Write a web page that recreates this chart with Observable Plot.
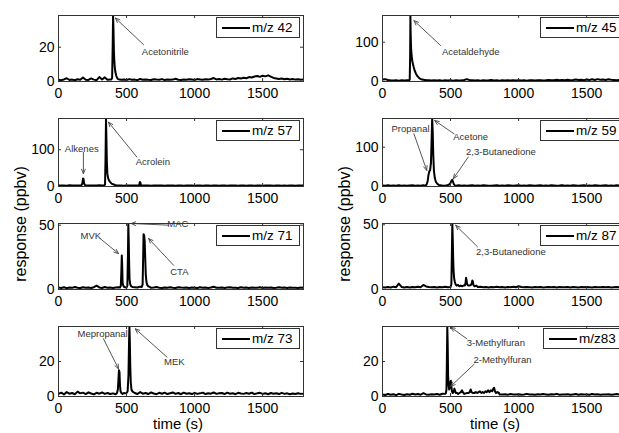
<!DOCTYPE html>
<html><head><meta charset="utf-8">
<script src="https://cdn.jsdelivr.net/npm/d3@7"></script>
<script src="https://cdn.jsdelivr.net/npm/@observablehq/plot@0.6"></script>
<style>
body{margin:0;background:#fff;}
#fig{position:relative;width:619px;height:433px;overflow:hidden;background:#fff;font-family:"Liberation Sans",Arial,sans-serif;color:#000;}
.panel{position:absolute;}
.legend{position:absolute;background:#fff;border:1px solid #333;box-sizing:border-box;height:21px;}
.legend .sw{position:absolute;left:5px;top:9px;width:28px;border-top:2px solid #000;}
.legend .lt{position:absolute;left:35px;top:2px;font-size:13.5px;line-height:15px;white-space:nowrap;}
.ylab{position:absolute;font-size:16px;white-space:nowrap;transform:translate(-50%,-50%) rotate(-90deg);}
.xlab{position:absolute;font-size:15px;white-space:nowrap;transform:translate(-50%,-50%);}
</style></head><body><div id="fig"></div>
<script>
// ---------- data ----------
const xTicks = [0, 500, 1000, 1500];
const STEP = 20; // baseline sample spacing (s): base arrays are t = 0,20,...,1800

const base42 = [1.0,0.8,1.2,1.9,0.9,1.1,0.7,1.3,1.0,2.3, 1.0,0.9,1.8,1.1,0.8,2.6,1.2,2.4,1.0,1.1, 1.2,1.1,1.3,1.0,1.2,0.9,1.4,1.0,1.1,0.8, 1.5,1.0,1.2,1.0,0.9,1.3,1.1,1.0,1.4,0.9, 1.2,1.0,1.1,1.6,1.0,0.9,1.2,1.0,1.3,1.1, 0.9,1.4,1.2,1.0,1.3,1.1,1.5,2.0,1.2,1.4, 1.1,1.6,1.3,1.2,1.8,1.5,2.0,1.7,2.2,1.9, 2.6,2.3,2.9,3.2,2.7,3.4,3.0,3.6,2.8,2.1, 1.8,1.5,1.7,1.3,1.6,1.2,1.4,1.1,1.3,1.0, 1.2];
const base45 = [5.0,6.0,4.0,3.0,2.5,3.0,2.0,3.0,2.5,3.0, 3.0,2.5,3.0,2.5,3.5,3.0,2.5,3.5,2.5,3.0, 2.5,3.0,2.0,3.0,2.5,3.0,2.0,3.0,2.5,3.0, 4.0,6.0,3.5,3.0,2.5,3.0,2.0,3.0,2.5,3.0, 4.0,2.5,3.0,2.0,3.0,2.5,3.0,2.5,3.5,2.5, 3.0,2.5,3.0,2.0,3.0,3.5,2.5,3.0,3.5,2.5, 3.0,4.0,3.0,3.5,4.5,3.5,4.0,3.0,4.5,3.5, 4.0,5.0,4.0,4.5,3.5,5.0,4.0,5.5,4.0,6.0, 4.5,5.0,4.0,5.5,4.5,4.0,3.5,4.0,3.0,3.5, 3.0];
const base57 = [3.0,2.5,3.0,2.0,3.5,2.5,3.0,2.5,3.0,2.5, 3.0,2.5,3.0,2.5,3.0,3.5,3.0,2.5,3.0,2.5, 3.0,3.5,2.5,3.0,2.0,3.0,2.5,3.0,2.5,3.0, 2.5,3.0,2.5,3.0,2.0,3.0,2.5,3.0,2.5,2.0, 3.0,2.5,3.0,2.0,2.5,3.0,2.0,2.5,3.0,2.5, 2.0,3.0,2.5,2.0,3.0,2.5,2.0,2.5,3.0,2.0, 2.5,3.0,2.0,2.5,3.0,2.5,2.0,3.0,2.5,2.0, 3.0,2.5,2.0,2.5,3.0,2.0,2.5,3.0,2.5,2.0, 2.5,3.0,2.0,2.5,2.0,3.0,2.5,2.0,2.5,3.0, 2.5];
const base59 = [2.5,2.0,3.0,2.0,2.5,2.0,3.0,2.0,2.5,2.0, 2.5,3.0,2.0,2.5,2.0,3.0,2.5,2.0,2.5,2.0, 2.5,2.0,3.0,2.0,2.5,2.0,2.5,2.0,3.0,2.0, 2.5,2.0,2.5,3.0,2.0,2.5,2.0,3.0,2.5,2.0, 2.0,2.5,3.0,2.0,2.5,2.0,3.0,2.5,2.0,2.5, 3.0,2.0,2.5,2.0,3.0,2.5,2.0,2.5,3.0,2.0, 2.5,2.0,3.0,2.5,2.0,2.5,3.5,2.0,2.5,2.0, 3.0,2.5,2.0,2.5,3.0,2.0,2.5,2.0,3.0,2.5, 2.0,2.5,3.0,2.0,2.5,2.0,3.0,2.5,2.0,2.5, 2.0];
const base71 = [1.5,1.2,1.8,1.0,1.6,1.3,2.0,1.4,1.1,1.7, 1.3,1.5,1.2,1.8,3.0,1.6,1.2,1.9,1.4,1.5, 1.2,1.6,1.8,1.3,1.5,1.2,1.6,1.4,1.7,1.3, 1.8,1.4,1.2,1.6,1.3,1.5,1.9,1.4,1.2,1.6, 1.3,1.7,1.4,1.2,1.8,1.5,1.3,1.6,1.2,1.5, 1.4,1.2,1.7,1.3,1.5,1.2,1.6,2.2,1.4,1.3, 1.6,1.2,1.5,1.8,1.3,1.4,1.2,1.7,1.3,1.5, 1.2,1.6,1.4,1.3,1.7,1.2,1.5,1.3,1.6,1.2, 1.4,1.7,1.3,1.5,1.2,1.6,1.3,1.4,1.2,1.5, 1.3];
const base87 = [1.8,1.5,2.0,1.6,2.2,1.8,4.5,2.0,1.6,1.9, 1.5,2.0,1.7,2.2,1.8,3.5,2.4,2.0,1.7,1.9, 1.6,2.0,1.8,2.2,1.7,1.9,2.1,1.8,2.0,1.7, 1.9,2.2,1.8,2.0,1.6,1.9,2.1,1.7,1.9,1.6, 2.0,1.8,2.2,1.7,1.9,1.6,2.0,1.8,2.1,1.7, 2.5,1.9,1.7,2.0,1.8,1.6,2.0,1.7,1.9,1.6, 1.8,2.0,1.7,1.9,1.6,2.0,1.8,1.7,1.9,1.6, 2.0,1.8,1.6,1.9,1.7,2.0,1.8,1.6,1.9,1.7, 1.8,2.0,1.7,1.9,1.6,1.8,2.0,1.7,1.9,1.6, 1.8];
const base73 = [1.5,2.2,1.2,2.5,1.6,2.0,1.3,2.8,1.8,2.2, 1.4,2.4,1.7,1.2,2.1,1.6,2.3,1.5,2.0,1.4, 1.8,1.3,2.2,1.6,1.9,1.3,2.4,1.7,2.0,1.4, 2.5,1.6,2.0,1.4,2.3,1.7,1.3,2.1,1.6,2.2, 1.4,1.9,2.3,1.5,2.0,1.3,2.2,1.6,1.9,1.4, 2.1,1.5,1.8,2.2,1.4,1.9,1.6,2.3,1.5,1.8, 2.0,1.4,2.2,1.6,1.9,1.3,2.1,1.7,1.5,2.0, 1.6,2.2,1.4,1.8,2.1,1.5,1.9,1.3,2.0,1.6, 1.9,1.4,2.1,1.5,1.8,1.3,1.7,1.4,1.9,1.5, 1.6];
const base83 = [1.2,0.9,1.4,1.0,1.3,0.8,1.5,1.1,0.9,1.3, 1.0,1.6,1.1,1.4,1.0,1.9,1.2,1.0,1.3,1.1, 1.4,1.0,1.6,1.2,1.1,1.3,1.0,1.2,1.5,1.1, 1.3,1.0,1.4,1.1,1.2,1.5,1.0,1.3,1.1,1.4, 1.2,1.0,1.6,1.2,1.1,1.3,1.0,1.4,1.2,1.1, 1.3,1.0,1.2,1.5,1.1,1.2,1.0,1.3,1.1,1.4, 1.2,1.0,1.3,1.1,1.5,1.0,1.2,1.1,1.3,1.0, 1.2,1.4,1.0,1.3,1.1,1.2,1.0,1.4,1.1,1.3, 1.0,1.2,1.1,1.3,1.0,1.2,1.4,1.1,1.0,1.2, 1.1];

// peak segments: [time (s), ppbv]
const peak42 = [[388,1.2],[394,2.0],[398,20],[401,38.5],[404,30],[407,18],[410,12],[414,8],[418,5.5],[424,3.5],[430,2.2],[436,1.5]];
const peak45 = [[196,3],[200,5],[203,60],[205,168],[207,120],[210,85],[214,65],[220,50],[228,38],[236,28],[246,20],[258,13],[272,8],[290,5],[310,4],[328,3]];
const peak57a = [[168,3],[175,8],[180,22],[184,20],[188,8],[194,4]];
const peak57b = [[336,3],[342,6],[346,90],[349,185],[352,130],[355,70],[359,35],[365,22],[372,16],[380,12],[390,8],[402,6],[415,4],[428,3]];
const peak57c = [[592,3],[598,12],[602,10],[606,3]];
const peak59 = [[316,2],[324,5],[332,14],[338,30],[344,38],[350,42],[356,60],[361,120],[365,173],[369,140],[373,80],[378,40],[384,22],[392,12],[402,7],[414,4],[428,3],[444,2],[460,2],[476,3],[490,5],[500,9],[507,15],[513,17],[518,12],[524,6],[532,3],[540,2]];
const peak71 = [[452,1.5],[458,3],[462,15],[465,26.5],[468,18],[471,5],[476,3],[482,2],[490,1.8],[500,1.5],[506,3],[510,25],[513,51.3],[516,38],[519,20],[522,8],[527,4],[534,2.5],[542,2],[560,1.8],[580,1.5],[600,2.2],[612,2],[618,4],[622,25],[625,43],[629,42],[633,38],[637,25],[641,12],[646,6],[652,3.5],[660,2.5],[670,2]];
const peak87 = [[500,2],[506,4],[510,30],[513,51],[516,40],[519,25],[522,15],[526,9],[531,6],[537,4],[545,3],[555,3.5],[565,2.5],[575,3],[585,2.5],[595,3],[605,3],[610,5],[614,9],[618,7],[622,4],[630,3],[640,3],[650,3.5],[656,5],[660,7],[664,6],[668,3.5],[676,2.5],[690,3]];
const peak73 = [[430,2],[436,4],[440,9],[444,15],[448,14],[452,6],[456,3],[462,2],[470,1.5],[480,2],[490,1.8],[500,2],[508,3],[514,12],[518,30],[521,40],[524,32],[527,18],[531,8],[536,4],[542,3],[550,2.5],[560,2]];
const peak83 = [[460,1.5],[466,2],[470,4],[473,20],[476,40],[479,30],[482,12],[486,6],[490,4],[494,5],[498,8],[502,9],[506,6],[510,3],[516,2],[522,2.5],[528,4.5],[534,3],[540,2],[548,2],[556,1.5],[566,2],[576,2.5],[584,3.5],[590,2.5],[600,1.5],[612,1.8],[622,2],[632,2],[640,2.5],[648,4],[654,2.5],[664,2],[674,2],[686,2.5],[696,2],[706,2.5],[716,3],[726,2],[736,2.5],[746,2],[756,3],[766,2.5],[776,3.5],[786,2.5],[796,3.5],[806,3],[814,4.5],[820,5],[826,3],[834,2],[844,2.5],[856,2]];

const yTicks42 = [0, 20], yTicks45 = [0, 100], yTicks57 = [0, 100], yTicks59 = [0, 100];
const yTicks71 = [0, 50], yTicks87 = [0, 50], yTicks73 = [0, 20], yTicks83 = [0, 20];

// annotations: label position (tx,ty) and arrow from (x1,y1) to (x2,y2), data units
const ann42 = [{label:"Acetonitrile", tx:785, ty:17.5, x1:625, y1:21.5, x2:418, y2:37}];
const ann45 = [{label:"Acetaldehyde", tx:648, ty:74.5, x1:427, y1:91.6, x2:231, y2:155}];
const ann57 = [{label:"Alkenes", tx:171, ty:103, x1:183, y1:93, x2:183, y2:35},
               {label:"Acrolein", tx:693, ty:66, x1:576, y1:80, x2:367, y2:175}];
const ann59 = [{label:"Propanal", tx:206, ty:147, x1:231, y1:134, x2:325, y2:41},
               {label:"Acetone", tx:648, ty:125, x1:526, y1:134, x2:383, y2:168},
               {label:"2,3-Butanedione", tx:870, ty:87, x1:630, y1:75, x2:521, y2:20}];
const ann71 = [{label:"MVK", tx:238, ty:41.6, x1:306, y1:39.6, x2:441, y2:27.9},
               {label:"MAC", tx:877, ty:50.8, x1:809, y1:50, x2:534, y2:51.3},
               {label:"CTA", tx:888, ty:14, x1:846, y1:18.8, x2:662, y2:39.6}];
const ann87 = [{label:"2,3-Butanedione", tx:943, ty:29, x1:698, y1:33, x2:538, y2:49.6}];
const ann73 = [{label:"Mepropanal", tx:324, ty:35.8, x1:330, y1:33, x2:441, y2:15.8},
               {label:"MEK", tx:851, ty:20, x1:797, y1:22.5, x2:564, y2:38.7}];
const ann83 = [{label:"3-Methylfuran", tx:833, ty:30.6, x1:621, y1:32.9, x2:501, y2:39.6},
               {label:"2-Methylfuran", tx:882, ty:20.9, x1:673, y1:18.4, x2:501, y2:5.8}];

const legendNames = ["m/z 42","m/z 45","m/z 57","m/z 59","m/z 71","m/z 87","m/z 73","m/z83"];

// ---------- layout ----------
const panels = [
  {base:base42, peaks:[peak42], yTicks:yTicks42, ann:ann42},
  {base:base45, peaks:[peak45], yTicks:yTicks45, ann:ann45},
  {base:base57, peaks:[peak57a,peak57b,peak57c], yTicks:yTicks57, ann:ann57},
  {base:base59, peaks:[peak59], yTicks:yTicks59, ann:ann59},
  {base:base71, peaks:[peak71], yTicks:yTicks71, ann:ann71},
  {base:base87, peaks:[peak87], yTicks:yTicks87, ann:ann87},
  {base:base73, peaks:[peak73], yTicks:yTicks73, ann:ann73},
  {base:base83, peaks:[peak83], yTicks:yTicks83, ann:ann83}
];
const colLeft = [0, 324];
const frameTop = [15, 118, 223, 326];
const frameH = [66, 68, 66, 70];
const W = 310, mL = 58, mR = 7, mT = 12, mB = 30;
const frameW = W - mL - mR;

function series(base, peaks) {
  const pts = [];
  base.forEach((v, i) => {
    const t = i * STEP;
    if (!peaks.some(p => t >= p[0][0] && t <= p[p.length - 1][0])) pts.push({t, v});
  });
  peaks.forEach(p => p.forEach(([t, v]) => pts.push({t, v})));
  pts.sort((a, b) => a.t - b.t);
  return pts;
}

const fig = document.getElementById("fig");
panels.forEach((p, k) => {
  const row = Math.floor(k / 2), col = k % 2;
  const h = frameH[row];
  const data = series(p.base, p.peaks);
  const ymax = d3.max(data, d => d.v);
  const chart = Plot.plot({
    width: W, height: h + mT + mB,
    marginLeft: mL, marginRight: mR, marginTop: mT, marginBottom: mB,
    style: {fontFamily: "'Liberation Sans', Arial, sans-serif", fontSize: "14px", color: "#000", background: "transparent", overflow: "visible"},
    x: {domain: [0, 1800], ticks: xTicks, tickSize: 0, tickPadding: 7, tickFormat: d => String(d), label: null},
    y: {domain: [0, ymax], ticks: p.yTicks, tickSize: 0, tickPadding: 4, tickFormat: d => String(d), label: null},
    marks: [
      Plot.lineY(data, {x: "t", y: "v", stroke: "#000", strokeWidth: 2, clip: true}),
      Plot.arrow(p.ann, {x1: "x1", y1: "y1", x2: "x2", y2: "y2", stroke: "#444", strokeWidth: 0.9, headLength: 8, headAngle: 45}),
      Plot.text(p.ann, {x: "tx", y: "ty", text: "label", fontSize: 9.5, fill: "#333"}),
      Plot.tickX(xTicks, {x: d => d, stroke: "#333", insetTop: h - 3}),
      Plot.tickX(xTicks, {x: d => d, stroke: "#333", insetBottom: h - 3}),
      Plot.tickY(p.yTicks, {y: d => d, stroke: "#333", insetRight: frameW - 3}),
      Plot.tickY(p.yTicks, {y: d => d, stroke: "#333", insetLeft: frameW - 3}),
      Plot.frame({stroke: "#333"})
    ]
  });
  chart.classList.add("panel");
  chart.style.left = colLeft[col] + "px";
  chart.style.top = (frameTop[row] - mT) + "px";
  fig.appendChild(chart);

  const lg = document.createElement("div");
  lg.className = "legend";
  const lw = legendNames[k] === "m/z83" ? 81 : 84;
  lg.style.width = lw + "px";
  lg.style.left = (colLeft[col] + mL + frameW - 3 - lw) + "px";
  lg.style.top = (frameTop[row] + 2) + "px";
  lg.innerHTML = '<div class="sw"></div><div class="lt"></div>';
  lg.querySelector(".lt").textContent = legendNames[k];
  fig.appendChild(lg);
});

function addLabel(cls, text, x, y) {
  const d = document.createElement("div");
  d.className = cls; d.textContent = text;
  d.style.left = x + "px"; d.style.top = y + "px";
  fig.appendChild(d);
}
addLabel("ylab", "response (ppbv)", 21, 224);
addLabel("ylab", "response (ppbv)", 345, 224);
addLabel("xlab", "time (s)", 178, 423);
addLabel("xlab", "time (s)", 495, 423);
</script></body></html>
